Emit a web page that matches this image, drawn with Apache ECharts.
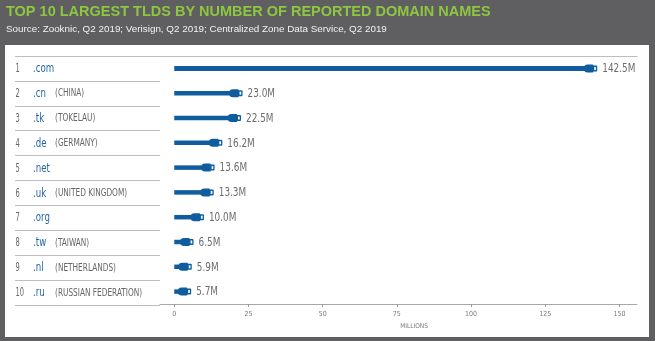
<!DOCTYPE html>
<html>
<head>
<meta charset="utf-8">
<script src="https://cdn.jsdelivr.net/npm/echarts@6/dist/echarts.min.js"></script>
<style>
  html, body { margin: 0; padding: 0; background: #5f5f61; }
  #chart { width: 655px; height: 341px; }
</style>
</head>
<body>
<div id="chart"></div>
<script>
// Top 10 TLDs by reported domain names (millions)
const ranks = ['1', '2', '3', '4', '5', '6', '7', '8', '9', '10'];
const tlds = ['.com', '.cn', '.tk', '.de', '.net', '.uk', '.org', '.tw', '.nl', '.ru'];
const countries = ['', '(CHINA)', '(TOKELAU)', '(GERMANY)', '', '(UNITED KINGDOM)', '', '(TAIWAN)', '(NETHERLANDS)', '(RUSSIAN FEDERATION)'];
const domainsMillions = [142.5, 23.0, 22.5, 16.2, 13.6, 13.3, 10.0, 6.5, 5.9, 5.7];
const xTicks = [0, 25, 50, 75, 100, 125, 150];

const NARROW = '"DejaVu Sans Condensed", "Liberation Sans Narrow", sans-serif';
const BLUE = '#0f5d9e';
const GREY_TEXT = '#6b6b6b';
const X_MIN = -4.8, X_MAX = 155.9;

const chart = echarts.init(document.getElementById('chart'), null, { renderer: 'canvas' });

// Condensed text helper: scaled horizontally around its anchor point
function narrowText(x, y, text, size, color, squeeze) {
  return {
    type: 'text', x: x, y: y, scaleX: squeeze,
    style: { text: text, fill: color, font: size + 'px ' + NARROW, verticalAlign: 'middle', align: 'left' }
  };
}

// Cable-and-plug shaped bar with its value label
function renderPlug(params, api) {
  const v = api.value(0);
  const cat = api.value(1);
  const p0 = api.coord([0, cat]);
  const p1 = api.coord([v, cat]);
  const y = p0[1];
  const thick = cat === 0 ? 5 : 4.5;
  const endX = p1[0];
  const bodyX = Math.max(p0[0] + 2, endX - 13.5);
  return {
    type: 'group',
    children: [
      { type: 'rect', shape: { x: p0[0], y: y - thick / 2, width: Math.max(0, bodyX - p0[0] + 3), height: thick },
        style: { fill: BLUE } },
      { type: 'rect', shape: { x: bodyX, y: y - 4, width: endX - 3.8 - bodyX, height: 8, r: [4, 1, 1, 4] },
        style: { fill: BLUE } },
      { type: 'rect', shape: { x: endX - 4.5, y: y - 3, width: 4.5, height: 6, r: [0, 1, 1, 0] },
        style: { fill: BLUE } },
      { type: 'rect', shape: { x: endX - 3, y: y - 1.5, width: 1.7, height: 3 },
        style: { fill: '#ffffff' } },
      narrowText(endX + 5, y + 0.5, v.toFixed(1) + 'M', 13, GREY_TEXT, 0.76)
    ]
  };
}

// Rank / TLD / country cells of the left-hand table
function renderRow(params, api) {
  const cat = api.value(1);
  const p = api.coord([0, cat]);
  const y = p[1] + 0.5;
  const cells = [
    narrowText(p[0] + 0.5, y, ranks[cat], 12, '#666666', 0.62),
    narrowText(p[0] + 18, y, tlds[cat], 12, '#2566a8', 0.8)
  ];
  if (countries[cat]) cells.push(narrowText(p[0] + 40, y, countries[cat], 10, '#666666', 0.82));
  return { type: 'group', children: cells };
}

const option = {
  backgroundColor: '#5f5f61',
  animation: false,
  title: {
    text: 'TOP 10 LARGEST TLDS BY NUMBER OF REPORTED DOMAIN NAMES',
    subtext: 'Source: Zooknic, Q2 2019; Verisign, Q2 2019; Centralized Zone Data Service, Q2 2019',
    left: 1, top: -1, itemGap: 5,
    textStyle: { color: '#8dc63f', fontSize: 14.5, fontWeight: 'bold', fontFamily: '"Liberation Sans", Arial, sans-serif' },
    subtextStyle: { color: '#f2f2f2', fontSize: 9.85, fontFamily: '"Liberation Sans", Arial, sans-serif' }
  },
  graphic: [
    { type: 'rect', z: -10, shape: { x: 5, y: 45, width: 644, height: 292 }, style: { fill: '#ffffff' } }
  ],
  grid: [
    { left: 160, top: 56, width: 477, height: 248 },
    { left: 15, top: 56, width: 145, height: 249 }
  ],
  xAxis: [
    {
      gridIndex: 0, type: 'value', min: X_MIN, max: X_MAX, position: 'bottom',
      axisLine: { show: true, lineStyle: { color: '#a8a8a8', width: 1 } },
      axisTick: { show: true, customValues: xTicks, length: 3, lineStyle: { color: '#999' } },
      axisLabel: { customValues: xTicks, color: '#7a7a7a', fontSize: 7, fontFamily: NARROW, margin: 7 },
      splitLine: { show: false },
      name: 'MILLIONS', nameLocation: 'middle', nameGap: 18,
      nameTextStyle: { color: '#7a7a7a', fontSize: 6.5, fontFamily: NARROW, padding: [0, 0, 0, 31] }
    },
    {
      gridIndex: 0, type: 'value', min: X_MIN, max: X_MAX, position: 'top',
      axisLine: { show: true, lineStyle: { color: '#bdbdbd', width: 1 } },
      axisTick: { show: false }, axisLabel: { show: false }, splitLine: { show: false }
    },
    { gridIndex: 1, type: 'value', show: false, min: 0, max: 1 }
  ],
  yAxis: [
    {
      gridIndex: 0, type: 'category', inverse: true, data: tlds,
      axisLine: { show: false }, axisTick: { show: false }, axisLabel: { show: false }, splitLine: { show: false }
    },
    {
      gridIndex: 1, type: 'category', inverse: true, data: tlds,
      axisLine: { show: false }, axisTick: { show: false }, axisLabel: { show: false },
      splitLine: { show: true, lineStyle: { color: '#bdbdbd', width: 1 } }
    }
  ],
  series: [
    {
      type: 'custom', xAxisIndex: 0, yAxisIndex: 0,
      renderItem: renderPlug,
      encode: { x: 0, y: 1 },
      data: domainsMillions.map((v, i) => [v, i]),
      clip: false
    },
    {
      type: 'custom', xAxisIndex: 2, yAxisIndex: 1,
      renderItem: renderRow,
      encode: { x: 0, y: 1 },
      data: tlds.map((t, i) => [0, i]),
      clip: false
    }
  ]
};

chart.setOption(option);
</script>
</body>
</html>
